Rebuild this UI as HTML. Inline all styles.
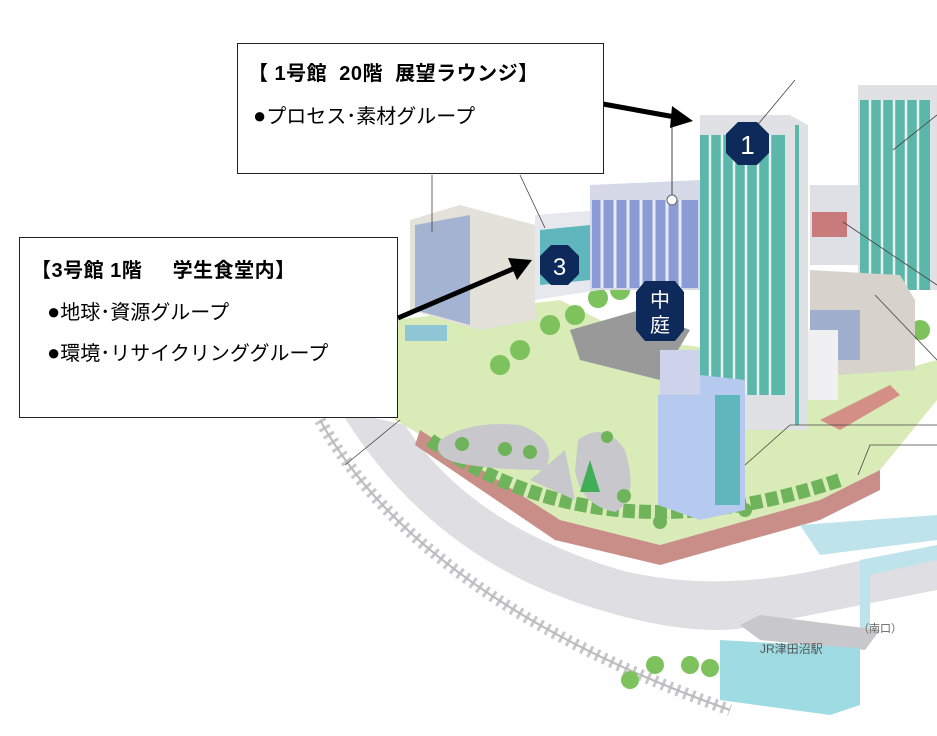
<!DOCTYPE html>
<html><head><meta charset="utf-8"><style>
html,body{margin:0;padding:0;background:#fff;}
body{width:937px;height:736px;overflow:hidden;position:relative;font-family:"Liberation Sans","Noto Sans CJK JP",sans-serif;}
.box{position:absolute;background:#fff;border:1.5px solid #222;box-sizing:border-box;}
.t{position:absolute;font-size:20px;color:#000;white-space:pre;line-height:24px;}
</style></head><body>
<svg width="937" height="736" style="position:absolute;left:0;top:0">
<!-- road / rail -->
<path d="M340,410 Q430,560 600,610 Q700,640 760,625 L937,590 L937,545 L840,565 Q720,595 620,570 Q470,525 405,425 Z" fill="#dedee3"/>
<path d="M320,420 Q420,600 730,710" fill="none" stroke="#c8c8cc" stroke-width="12" stroke-dasharray="3,5"/>
<path d="M320,420 Q420,600 730,710" fill="none" stroke="#bbb" stroke-width="2"/>
<!-- ground -->
<polygon points="395,320 560,300 640,340 900,370 937,360 937,400 880,470 820,500 660,545 560,520 430,440 395,420" fill="#d9ecb8"/>
<polygon points="420,430 560,520 660,545 820,500 880,470 880,490 820,520 660,565 555,540 415,445" fill="#c98e88"/>
<path d="M430,440 Q600,560 840,480" fill="none" stroke="#6fb35a" stroke-width="14" stroke-dasharray="12,4"/>
<!-- gardens -->
<path d="M440,440 Q470,420 520,425 Q560,440 545,470 Q500,470 470,465 Q430,460 440,440Z" fill="#c8c8cc"/>
<path d="M530,480 L565,450 L575,500 Z" fill="#c8c8cc"/>
<path d="M578,440 Q605,420 625,450 Q640,500 615,512 Q580,505 575,470Z" fill="#c8c8cc"/>
<g fill="#6fb35a"><circle cx="462" cy="444" r="7"/><circle cx="505" cy="449" r="7"/><circle cx="530" cy="452" r="7"/><circle cx="607" cy="437" r="6"/><circle cx="624" cy="496" r="7"/><circle cx="660" cy="522" r="7"/><circle cx="745" cy="510" r="7"/></g>
<polygon points="590,460 580,492 600,492" fill="#3fae56"/>
<!-- courtyard gray -->
<polygon points="570,330 640,310 690,330 660,380 580,360" fill="#999"/>
<!-- trees -->
<g fill="#7dc25d"><circle cx="500" cy="365" r="10"/><circle cx="520" cy="350" r="10"/><circle cx="550" cy="325" r="10"/><circle cx="575" cy="315" r="10"/><circle cx="598" cy="298" r="10"/><circle cx="620" cy="290" r="10"/><circle cx="630" cy="680" r="9"/><circle cx="655" cy="665" r="9"/><circle cx="690" cy="665" r="9"/><circle cx="710" cy="668" r="9"/><circle cx="840" cy="700" r="10"/><circle cx="920" cy="330" r="10"/></g>
<!-- building left beige -->
<polygon points="410,220 460,205 535,225 535,320 480,330 410,310" fill="#e4e0da"/>
<polygon points="415,225 470,215 470,325 415,310" fill="#8a9fd0" opacity="0.7"/>
<!-- building 3 -->
<polygon points="535,215 600,210 600,290 535,300" fill="#e6e8ee"/>
<polygon points="540,230 590,225 590,280 540,285" fill="#5fb6bd"/>
<!-- blue mid building -->
<polygon points="590,185 700,180 700,290 590,290" fill="#d5d9e8"/>
<rect x="592" y="200" width="106" height="88" fill="#8b9bd6"/>
<g stroke="#e8ebf4" stroke-width="3"><line x1="602" y1="200" x2="602" y2="288"/><line x1="615" y1="200" x2="615" y2="288"/><line x1="628" y1="200" x2="628" y2="288"/><line x1="641" y1="200" x2="641" y2="288"/><line x1="654" y1="200" x2="654" y2="288"/><line x1="667" y1="200" x2="667" y2="288"/><line x1="680" y1="200" x2="680" y2="288"/></g>
<line x1="672" y1="125" x2="672" y2="195" stroke="#444"/>
<circle cx="672" cy="200" r="5" fill="#fff" stroke="#666"/>
<!-- tower 1 -->
<polygon points="700,115 790,115 808,125 808,430 700,430" fill="#e0e1e5"/>
<rect x="700" y="135" width="85" height="260" fill="#5bb7aa"/>
<g stroke="#e9f2f0" stroke-width="2.5"><line x1="710" y1="135" x2="710" y2="395"/><line x1="722" y1="135" x2="722" y2="395"/><line x1="734" y1="135" x2="734" y2="395"/><line x1="746" y1="135" x2="746" y2="395"/><line x1="758" y1="135" x2="758" y2="395"/><line x1="770" y1="135" x2="770" y2="395"/></g>
<rect x="795" y="125" width="4" height="300" fill="#5bb7aa"/>
<!-- right tower -->
<polygon points="858,85 937,85 937,290 858,290" fill="#e0e1e5"/>
<rect x="860" y="100" width="70" height="190" fill="#5bb7aa"/>
<g stroke="#e9f2f0" stroke-width="2.5"><line x1="870" y1="100" x2="870" y2="290"/><line x1="882" y1="100" x2="882" y2="290"/><line x1="894" y1="100" x2="894" y2="290"/><line x1="906" y1="100" x2="906" y2="290"/><line x1="918" y1="100" x2="918" y2="290"/></g>
<!-- middle right buildings -->
<rect x="810" y="185" width="48" height="80" fill="#dfe0e6"/>
<rect x="812" y="212" width="35" height="25" fill="#c97a7a"/>
<polygon points="810,270 900,275 915,300 915,370 840,375 810,360" fill="#d8d2cc"/>
<rect x="810" y="310" width="50" height="50" fill="#8a9fd0" opacity="0.7"/>
<!-- front light blue building -->
<polygon points="658,395 700,375 745,380 745,510 700,520 658,505" fill="#b6c9ef"/>
<rect x="715" y="395" width="25" height="110" fill="#5fb6bd"/>
<rect x="660" y="350" width="40" height="45" fill="#cdd3ea"/>
<rect x="808" y="330" width="30" height="70" fill="#f0f0f2"/>
<!-- plaza brick right -->
<polygon points="820,420 890,385 900,395 840,430" fill="#d48f86"/>
<!-- bus -->
<rect x="405" y="325" width="42" height="16" fill="#8fc6d6"/>
<!-- station & bridge -->
<polygon points="800,525 937,515 937,540 820,555" fill="#bfe3ea"/>
<polygon points="860,560 937,545 937,560 870,575" fill="#bfe3ea"/>
<rect x="860" y="560" width="10" height="75" fill="#bfe3ea"/>
<polygon points="740,625 760,615 880,630 865,650 760,640" fill="#c8c8cc"/>
<polygon points="720,640 860,648 860,705 830,715 720,700" fill="#9fdbe3"/>
<text x="760" y="653" font-size="12" fill="#555" font-family="Liberation Sans,Noto Sans CJK JP,sans-serif">JR津田沼駅</text>
<text x="858" y="632" font-size="11" fill="#666" font-family="Liberation Sans,Noto Sans CJK JP,sans-serif">（南口）</text>
<!-- leader lines -->
<g stroke="#444" stroke-width="0.8" fill="none"><line x1="795" y1="80" x2="755" y2="128"/><line x1="937" y1="115" x2="893" y2="150"/><line x1="843" y1="222" x2="937" y2="285"/><line x1="875" y1="295" x2="937" y2="360"/><polyline points="745,465 790,425 937,425"/><polyline points="858,475 870,445 937,445"/><line x1="432" y1="175" x2="432" y2="232"/><line x1="520" y1="175" x2="545" y2="228"/><line x1="400" y1="420" x2="345" y2="465"/></g>
<!-- badges -->
<polygon points="738,122 757,122 769,134 769,153 757,165 738,165 726,153 726,134" fill="#0e2a5a"/>
<text x="747.5" y="154" font-size="26" fill="#fff" text-anchor="middle" font-family="Liberation Sans,sans-serif">1</text>
<polygon points="551,245 568,245 579,256 579,274 568,285 551,285 540,274 540,256" fill="#0e2a5a"/>
<text x="559.5" y="275" font-size="24" fill="#fff" text-anchor="middle" font-family="Liberation Sans,sans-serif">3</text>
<polygon points="645,281 675,281 684,292 684,330 675,341 645,341 636,330 636,292" fill="#0e2a5a"/>
<text x="660" y="307" font-size="20" fill="#fff" text-anchor="middle" font-family="Noto Sans CJK JP,sans-serif">中</text>
<text x="660" y="332" font-size="20" fill="#fff" text-anchor="middle" font-family="Noto Sans CJK JP,sans-serif">庭</text>
<!-- arrows -->
<line x1="603" y1="104" x2="675" y2="117" stroke="#000" stroke-width="5"/>
<polygon points="693,121 672,106 670,128" fill="#000"/>
</svg>
<div class="box" style="left:237px;top:43px;width:367px;height:131px"></div>
<div class="t" style="left:248px;top:62px;font-weight:bold;letter-spacing:0.5px;">【 1号館  20階  展望ラウンジ】</div>
<div class="t" style="left:253px;top:104px;"><span style="font-size:22px">●</span>プロセス･素材グループ</div>
<div class="box" style="left:19px;top:237px;width:379px;height:181px"></div>
<div class="t" style="left:31px;top:259px;font-weight:bold;letter-spacing:0.5px;">【3号館 1階     学生食堂内】</div>
<div class="t" style="left:47px;top:300px;"><span style="font-size:22px">●</span>地球･資源グループ</div>
<div class="t" style="left:47px;top:341px;"><span style="font-size:22px">●</span>環境･リサイクリンググループ</div>
<svg width="937" height="736" style="position:absolute;left:0;top:0;pointer-events:none">
<line x1="398" y1="318" x2="515" y2="268" stroke="#000" stroke-width="5"/>
<polygon points="532,260 508,258 517,280" fill="#000"/>
</svg>
</body></html>
